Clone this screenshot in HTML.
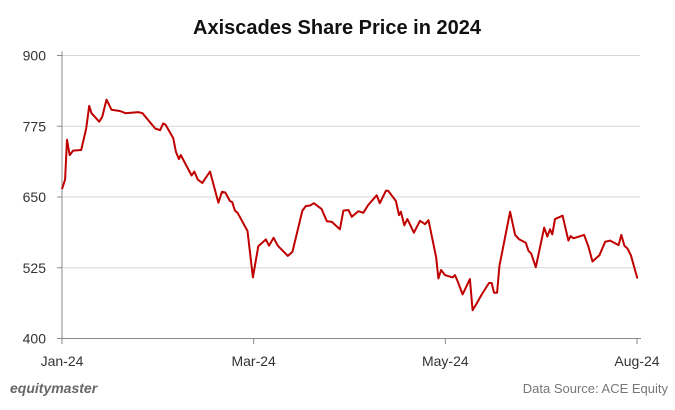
<!DOCTYPE html>
<html><head><meta charset="utf-8"><style>
body{margin:0;background:#fff;font-family:"Liberation Sans",sans-serif}
#c{position:relative;width:675px;height:410px;overflow:hidden}
</style></head><body>
<div id="c">
<svg id="s" width="675" height="410" xmlns="http://www.w3.org/2000/svg">
<text x="337" y="34" text-anchor="middle" font-size="20" font-weight="bold" fill="#111" font-family="Liberation Sans, sans-serif">Axiscades Share Price in 2024</text>
<g id="grid"></g><g id="axes"></g><g id="series"></g>
<text x="10" y="393" font-size="14" font-weight="bold" font-style="italic" fill="#666" font-family="Liberation Sans, sans-serif">equitymaster</text>
<text x="668" y="393" text-anchor="end" font-size="13" fill="#777" font-family="Liberation Sans, sans-serif">Data Source: ACE Equity</text>
</svg>
</div>
<script>
const tIdx=[0,0.8,1.3,2,2.9,5,6.3,7.1,7.7,9.7,10.5,11.6,12.9,15.1,16.6,19.9,21,24.3,25.6,26.4,27,29,29.7,30.5,31,33.8,34.5,35.4,36.6,38.6,40.8,41.7,42.6,43.8,44.4,45.1,45.8,48.4,49.8,51.2,53.2,54,55.2,56.3,58.9,60.1,62.7,63.6,64.7,65.7,67.7,69.1,70.4,72.5,73.4,74.7,75.6,77.3,78.6,79.9,82.1,82.9,84.5,85.1,87.1,87.9,88.4,89.3,90.1,91.8,93.4,94.7,95.6,97.6,98.2,98.9,99.9,101.9,102.5,103.1,104.5,106.4,107.1,108.3,109.5,111.4,112.1,112.7,113.5,114.1,116.9,118.2,119.3,121,121.7,122.4,123.6,125.8,126.6,127.3,127.9,128.6,130.6,132.1,132.7,133.4,136.2,137.3,138.4,140.2,141.7,143,145.2,145.9,146.7,147.5,148.4,150.1];
const prices=[664,681,751,724,732,733,771,811,798,783,792,822,804,802,798,800,798,771,768,780,778,754,730,717,724,688,695,681,675,695,640,659,658,643,641,626,622,590,508,563,575,564,578,564,546,553,626,634,635,639,629,607,606,593,626,627,615,625,622,636,653,639,661,661,643,618,624,600,611,587,608,602,609,544,506,521,512,508,512,503,478,505,450,463,478,498,498,481,481,528,624,583,575,569,555,550,526,596,580,593,584,611,617,573,581,577,583,563,536,547,571,573,565,583,564,559,547,506];
const yTicks=[400,525,650,775,900];
const xTickPos=[0,50,100,150];
const xTickLabels=["Jan-24","Mar-24","May-24","Aug-24"];
const NS="http://www.w3.org/2000/svg";
const X=t=>62+t*(575/150), Y=v=>338.5-(v-400)*(283/500);
function mk(tag,attrs,parent){const e=document.createElementNS(NS,tag);for(const k in attrs)e.setAttribute(k,attrs[k]);parent.appendChild(e);return e;}
const g=document.getElementById('grid'),a=document.getElementById('axes'),s=document.getElementById('series');
yTicks.forEach(v=>{
 if(v>400){const l=mk('line',{x1:62,x2:640,y1:Y(v),y2:Y(v),stroke:'#d6d6d6','stroke-width':1},g);
 
 }
 const tk=mk('line',{x1:57,x2:62,y1:Y(v),y2:Y(v),stroke:'#888'},a);
 
 
 const t=mk('text',{x:46,y:Y(v)+5,'text-anchor':'end','font-size':14,fill:'#333','font-family':'Liberation Sans, sans-serif'},a);
 t.textContent=v;
 
 
});
const ya=mk('line',{x1:62,x2:62,y1:Y(900)-4,y2:338.5,stroke:'#888'},a);


const xa=mk('line',{x1:57,x2:641,y1:338.5,y2:338.5,stroke:'#888'},a);


xTickPos.forEach((p,i)=>{
 const tk=mk('line',{x1:X(p),x2:X(p),y1:338.5,y2:344,stroke:'#888'},a);
 
 
 const t=mk('text',{x:X(p),y:366,'text-anchor':'middle','font-size':14,fill:'#333','font-family':'Liberation Sans, sans-serif'},a);
 t.textContent=xTickLabels[i];
 
 
});
const d=tIdx.map((t,i)=>(i?'L':'M')+X(t).toFixed(1)+','+Y(prices[i]).toFixed(1)).join('');
const p=mk('path',{d:d,fill:'none',stroke:'#c00000','stroke-width':2,'stroke-linejoin':'round'},s);


</script>
</body></html>
